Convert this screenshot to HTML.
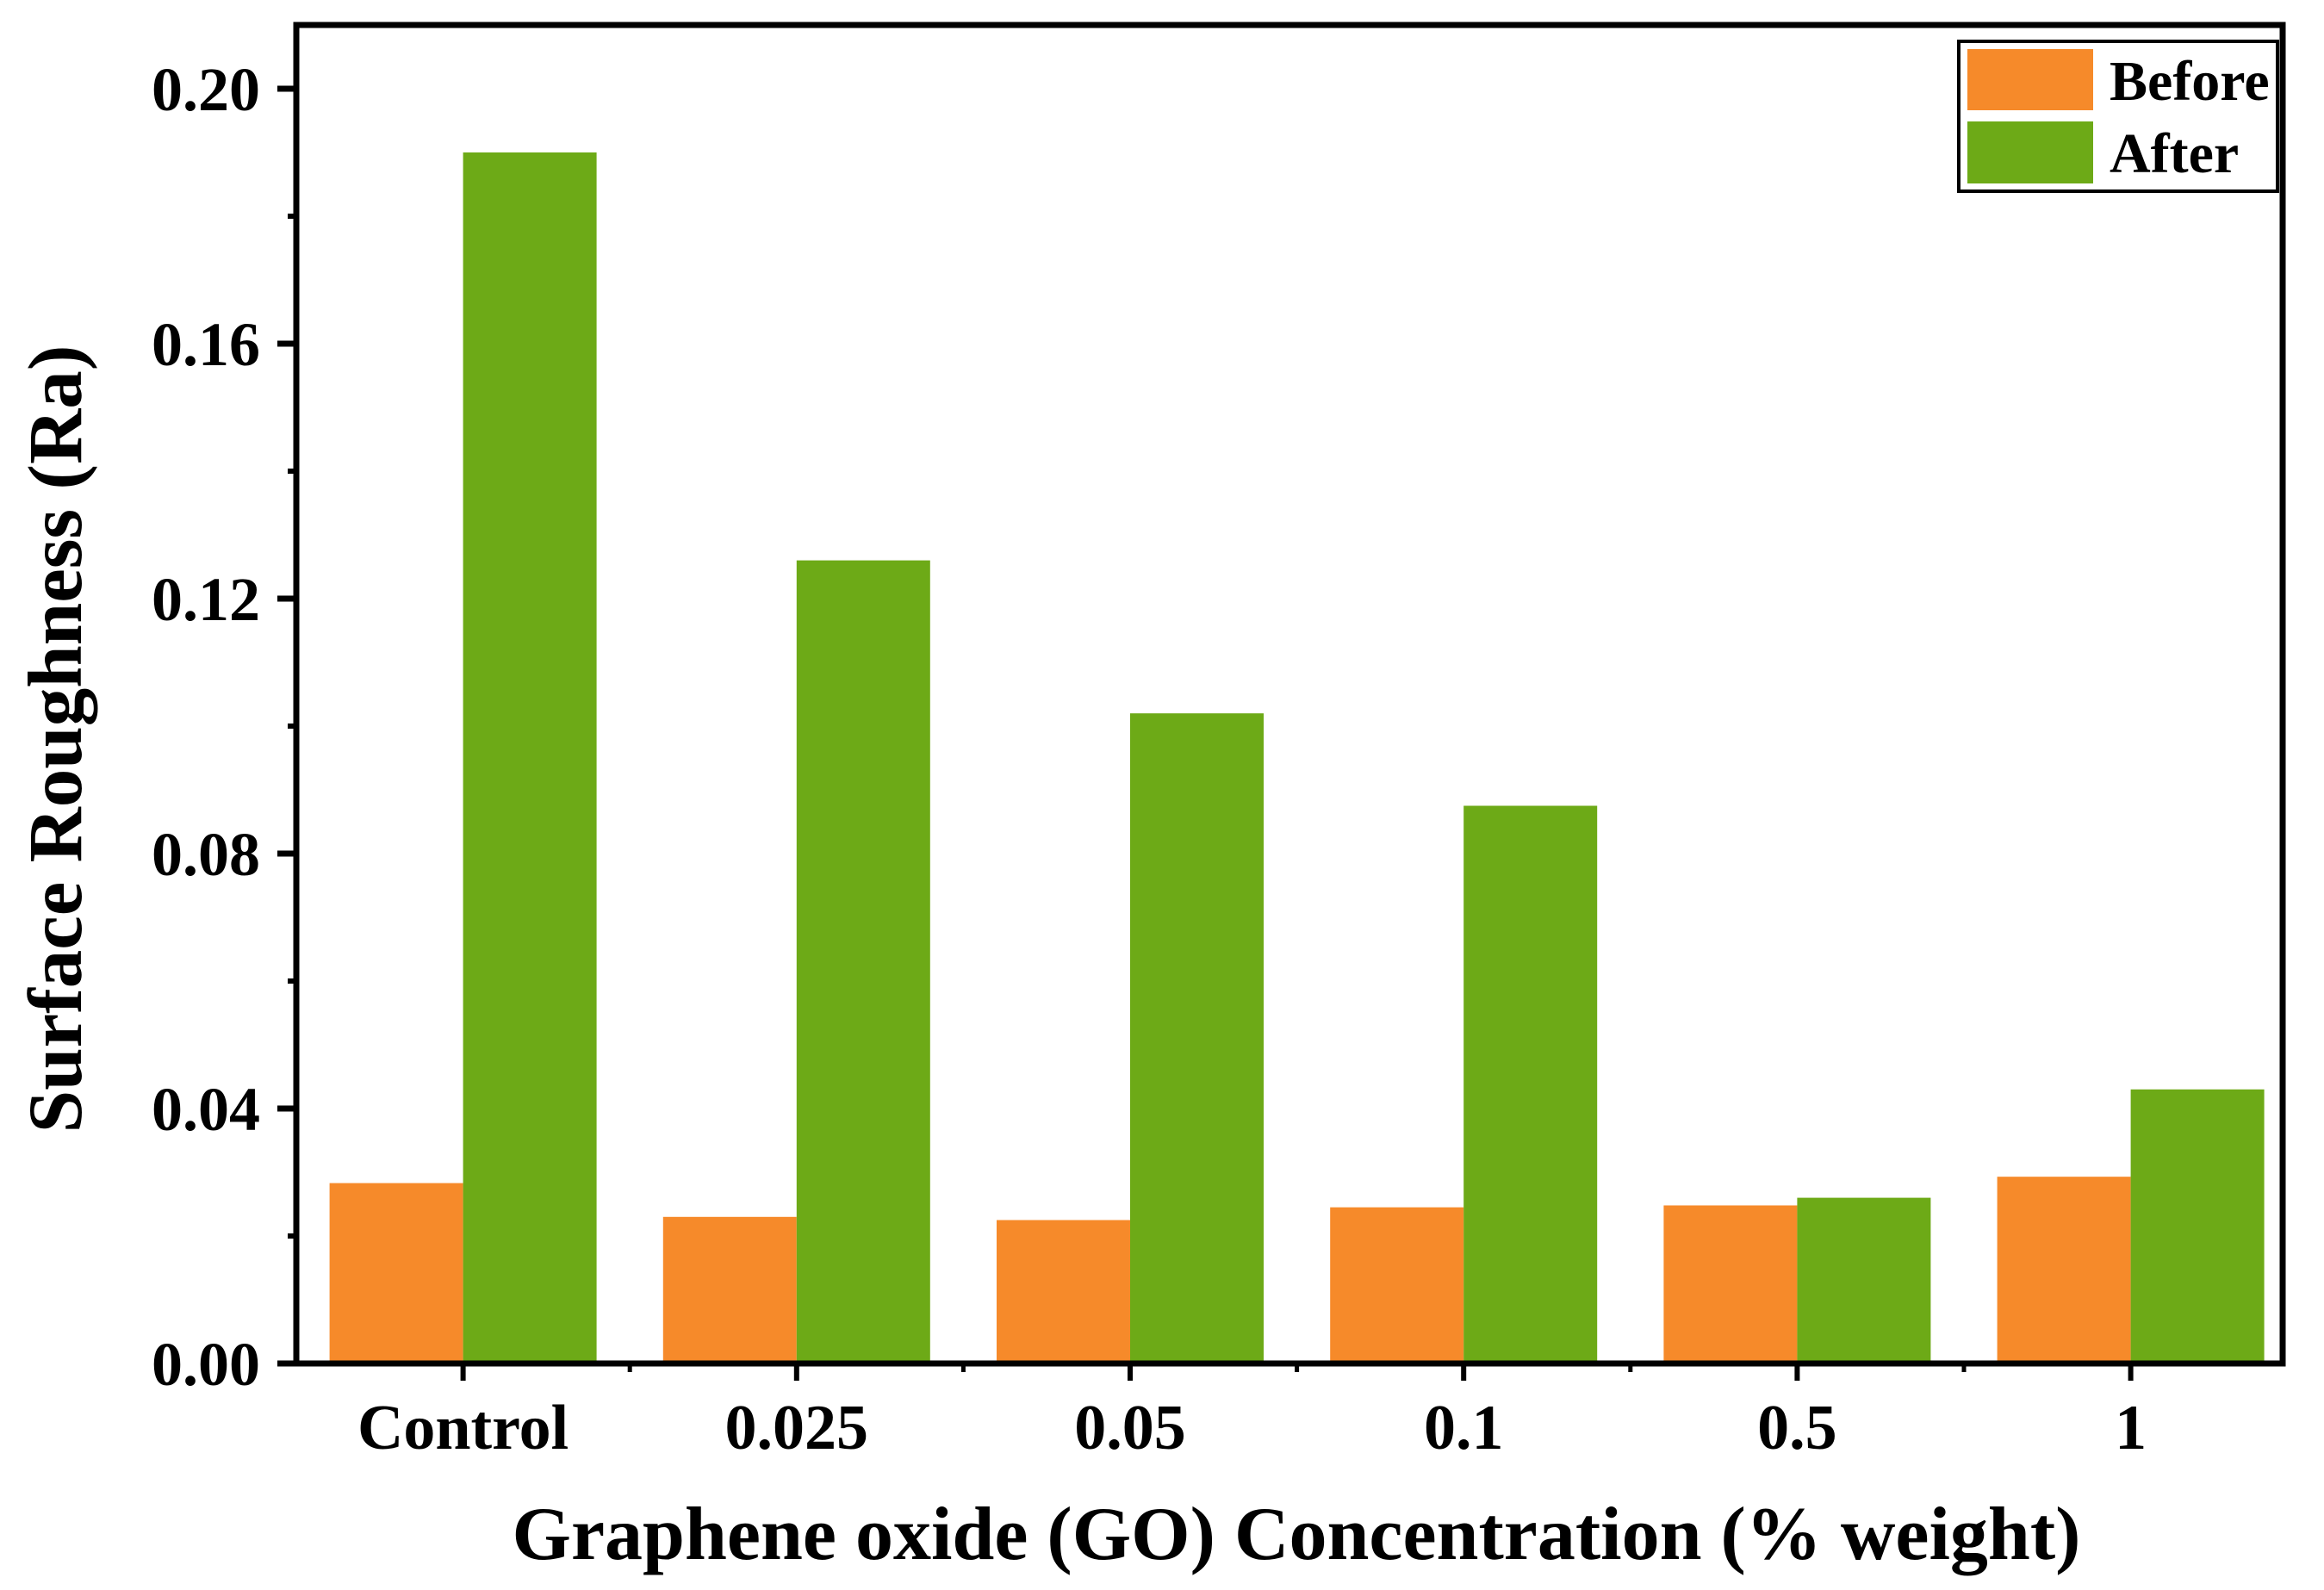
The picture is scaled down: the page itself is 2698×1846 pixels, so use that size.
<!DOCTYPE html>
<html><head><meta charset="utf-8"><style>
html,body{margin:0;padding:0;background:#fff;}
svg{display:block;font-family:"Liberation Serif",serif;font-weight:bold;}
</style></head><body>
<svg id="chart" width="2698" height="1846" viewBox="0 0 2698 1846">
<g id="bars"></g>
<g id="axes"></g>
<text x="0" y="0" transform="translate(94,858) rotate(-90)" text-anchor="middle" font-size="89">Surface Roughness (Ra)</text>
<text x="1505" y="1810" text-anchor="middle" font-size="88">Graphene oxide (GO) Concentration (% weight)</text>
<g>
<rect x="2274" y="48" width="370" height="174" fill="#fff" stroke="#000" stroke-width="4"/>
<rect x="2284" y="57" width="146" height="71" fill="#F68A2A"/>
<text x="2449" y="116" font-size="66">Before</text>
<rect x="2284" y="141" width="146" height="72" fill="#6DAA17"/>
<text x="2449" y="200" font-size="66">After</text>
</g>
</svg>
<script>
const categories = ["Control", "0.025", "0.05", "0.1", "0.5", "1"];
const beforeValues = [0.0283, 0.0230, 0.0225, 0.0245, 0.0248, 0.0293];
const afterValues = [0.190, 0.126, 0.102, 0.0875, 0.026, 0.043];
const yTicks = [0.00, 0.04, 0.08, 0.12, 0.16, 0.20];
const yTickLabels = ["0.00", "0.04", "0.08", "0.12", "0.16", "0.20"];

const NS = "http://www.w3.org/2000/svg";
const L = 344, R = 2650, T = 29, B = 1583;
const Y0 = 1583, Y20 = 103;
const STEP = 387.2;
function y(v){ return Y0 - (v / 0.20) * (Y0 - Y20); }
function x(i){ return L + (i + 0.5) * STEP; }
const BW = 155;
function mk(tag, attrs, parent){
  const e = document.createElementNS(NS, tag);
  for (const k in attrs) e.setAttribute(k, attrs[k]);
  parent.appendChild(e);
  return e;
}
const bars = document.getElementById("bars");
const axes = document.getElementById("axes");
categories.forEach((c, i) => {
  const cx = x(i);
  const b = mk("rect", {x: cx - BW, y: y(beforeValues[i]), width: BW, height: Y0 - y(beforeValues[i]), fill: "#F68A2A"}, bars);
  
  
  const a = mk("rect", {x: cx, y: y(afterValues[i]), width: BW, height: Y0 - y(afterValues[i]), fill: "#6DAA17"}, bars);
  
  
  const t = mk("line", {x1: cx, x2: cx, y1: B, y2: B + 20, stroke: "#000", "stroke-width": 6}, axes);
  
  
  const lab = mk("text", {x: cx, y: 1682, "text-anchor": "middle", "font-size": 74}, axes);
  lab.textContent = c;
  
  
  if (i < categories.length - 1) {
    const mx = (x(i) + x(i + 1)) / 2;
    const m = mk("line", {x1: mx, x2: mx, y1: B, y2: B + 10, stroke: "#000", "stroke-width": 5}, axes);
    
    
  }
});
yTicks.forEach((v, i) => {
  const yy = y(v);
  const t = mk("line", {x1: L - 22, x2: L, y1: yy, y2: yy, stroke: "#000", "stroke-width": 7}, axes);
  
  
  const lab = mk("text", {x: 302, y: yy + 25, "text-anchor": "end", "font-size": 72}, axes);
  lab.textContent = yTickLabels[i];
  
  
  if (i < yTicks.length - 1) {
    const my = y((yTicks[i] + yTicks[i + 1]) / 2);
    const m = mk("line", {x1: L - 10, x2: L, y1: my, y2: my, stroke: "#000", "stroke-width": 6}, axes);
    
    
  }
});
const frame = mk("rect", {x: L, y: T, width: R - L, height: B - T, fill: "none", stroke: "#000", "stroke-width": 7}, axes);


</script>
</body></html>
